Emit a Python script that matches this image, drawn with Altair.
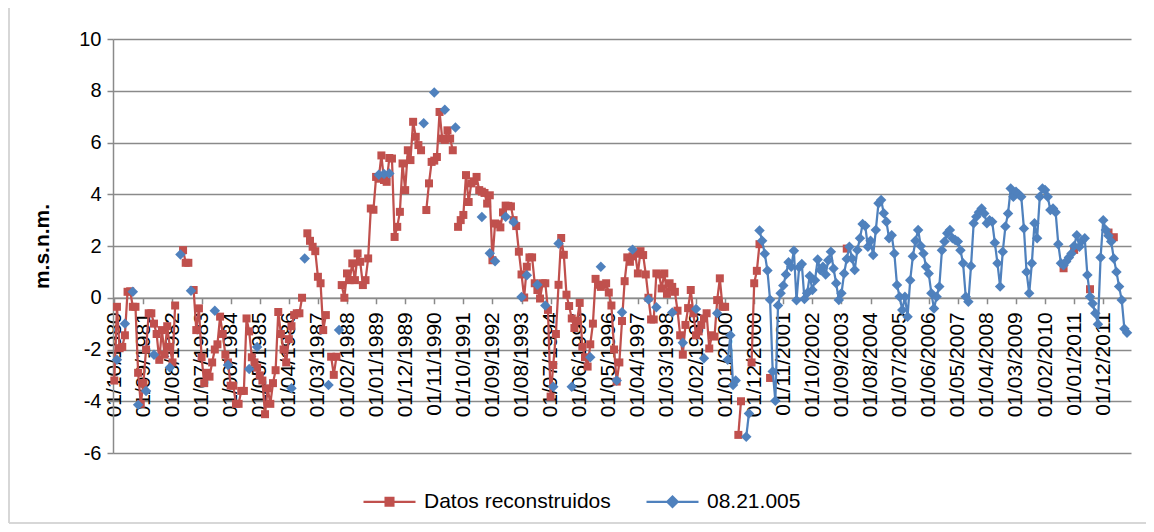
import json
import altair as alt
import pandas as pd

N = None

series_names = ["Datos reconstruidos", "08.21.005"]
series_colors = ["#C0504D", "#4F81BD"]

# category labels shown on the x axis (every 11th month, Oct 1980 .. Oct 2012)
tick_labels = [
    "01/10/1980", "01/09/1981", "01/08/1982", "01/07/1983", "01/06/1984",
    "01/05/1985", "01/04/1986", "01/03/1987", "01/02/1988", "01/01/1989",
    "01/12/1989", "01/11/1990", "01/10/1991", "01/09/1992", "01/08/1993",
    "01/07/1994", "01/06/1995", "01/05/1996", "01/04/1997", "01/03/1998",
    "01/02/1999", "01/01/2000", "01/12/2000", "01/11/2001", "01/10/2002",
    "01/09/2003", "01/08/2004", "01/07/2005", "01/06/2006", "01/05/2007",
    "01/04/2008", "01/03/2009", "01/02/2010", "01/01/2011", "01/12/2011",
]
label_step = 11
n_months = 385

# "Datos reconstruidos" monthly values (m.s.n.m.), Oct 1980 .. Oct 2012
red_values = (
    [-3.2, -0.35, -1.95]                                                        # 1980
    + [-1.9, -1.45, 0.23, 0.25, -0.35, -0.35, -2.9, -4.1, -3.3, -2.0, -0.6, -0.6]  # 1981
    + [-1.0, -1.4, -2.4, -1.25, -2.2, -1.1, -1.9, -2.5, -0.3, N, N, 1.84]        # 1982
    + [1.35, 1.35, N, 0.3, -1.25, -0.41, -2.3, -3.3, -2.9, -3.05, -2.5, -2.0]    # 1983
    + [-1.8, -0.73, -1.4, -2.2, -2.5, -3.4, -3.4, -4.1, -4.1, -3.6, -3.6, -0.8]  # 1984
    + [-1.3, -2.3, -2.5, -2.7, -3.0, -3.2, -4.5, -3.5, -4.1, -3.3, -2.8, -0.55]  # 1985
    + [-1.4, -2.0, -2.5, -1.6, -1.1, -0.67, -0.6, -0.6, 0.0, N, 2.49, 2.2]       # 1986
    + [1.97, 1.8, 0.81, 0.56, -1.25, -0.67, N, -2.28, -2.98, -2.28, N, 0.49]     # 1987
    + [0.0, 0.94, 0.68, 1.33, 0.68, 1.71, 1.39, 0.49, 0.68, 1.52, 3.45, 3.4]     # 1988
    + [4.67, 4.6, 5.5, 4.55, 4.48, 5.4, 5.38, 2.35, 2.74, 3.32, 5.19, 4.16]      # 1989
    + [5.7, 5.32, 6.8, 6.22, 5.9, 5.7, N, 3.39, 4.42, 5.25, 5.3, 5.44]           # 1990
    + [7.18, 6.15, 6.1, 6.47, 6.15, 5.7, N, 2.74, 3.0, 3.2, 4.74, 3.7]           # 1991
    + [4.42, 4.5, 4.67, 4.16, 4.1, 4.05, 3.64, 3.96, 1.45, 2.87, 2.84, 2.72]     # 1992
    + [3.3, 3.56, 3.55, 3.53, 3.0, 2.77, 1.78, 0.9, 0.01, 1.2, 1.56, 1.56]       # 1993
    + [0.56, 0.3, -0.03, 0.56, 0.56, -0.47, -3.82, -2.6, -1.4, 0.5, 2.31, 1.66]  # 1994
    + [0.12, -0.32, -0.8, -1.17, -0.9, -0.2, -1.9, -2.3, -2.66, -1.8, -1.0, 0.73]  # 1995
    + [0.5, 0.42, 0.5, 0.56, 0.2, -0.3, -2.0, -3.24, -2.5, -0.9, 0.64, 1.56]     # 1996
    + [1.39, 1.6, 1.7, 0.94, 1.8, 1.65, 0.9, 0.0, -0.84, -0.84, 0.94, 0.9]       # 1997
    + [0.36, 0.94, 0.15, 0.56, 0.42, 0.23, -0.5, -1.45, -2.2, -1.05, -0.4, 0.3]  # 1998
    + [-0.6, -1.45, -1.3, -1.05, -0.8, -0.6, -1.96, -1.45, -1.5, -0.09, 0.75, -0.35]  # 1999
    + [-0.35, N, N, N, N, -5.3, -4.0, N, N, N, -2.5, 0.56]                       # 2000
    + [1.04, 2.07, N, N, N, -3.1, N, N, N, N, N, N]                              # 2001
    + [N] * 12                                                                   # 2002
    + [N, N, N, N, N, N, N, N, N, N, 1.9, N]                                     # 2003
    + [N] * 12 * 6                                                               # 2004-2009
    + [N, N, N, N, N, N, N, N, 1.14, N, N, N]                                    # 2010
    + [1.85, N, N, N, N, N, 0.33, N, N, N, N, N]                                 # 2011
    + [N, 2.52, N, 2.34, N, N, N, N, N, N]                                       # 2012
)

# "08.21.005" observed monthly values (m.s.n.m.), Oct 1980 .. Oct 2012
blue_values = (
    [N, -2.4, N]                                                                 # 1980
    + [N, -1.0, N, N, 0.23, N, -4.14, N, N, -3.6, N, N]                          # 1981
    + [-2.2, N, N, N, N, N, -2.7, N, N, N, 1.67, N]                              # 1982
    + [N, N, 0.27, N, N, N, N, N, N, N, N, -0.5]                                 # 1983
    + [N, N, N, N, -2.6, N, N, N, N, N, N, N]                                    # 1984
    + [-2.75, N, N, -1.9, N, N, N, N, N, N, N, N]                                # 1985
    + [N, N, N, N, -3.5, N, N, N, N, 1.52, N, N]                                 # 1986
    + [N, N, N, N, N, N, -3.37, N, N, N, -1.25, N]                               # 1987
    + [N] * 12                                                                   # 1988
    + [N, 4.75, N, 4.78, N, 4.8, N, N, N, N, N, N]                               # 1989
    + [N, N, N, N, N, N, 6.74, N, N, N, 7.93, N]                                 # 1990
    + [N, N, 7.27, N, N, N, 6.58, N, N, N, N, N]                                 # 1991
    + [N, N, N, N, 3.12, N, N, 1.72, N, 1.41, N, N]                              # 1992
    + [N, 3.13, N, N, 2.93, N, N, 0.03, N, 0.87, N, N]                           # 1993
    + [N, 0.5, N, N, -0.3, N, N, -3.44, N, 2.1, N, N]                            # 1994
    + [N, N, -3.44, N, N, N, N, N, N, -2.3, N, N]                                # 1995
    + [N, 1.2, N, N, N, N, N, -3.2, N, -0.56, N, N]                              # 1996
    + [N, 1.86, N, N, N, N, N, -0.07, N, N, -0.37, N]                            # 1997
    + [N, N, N, N, -0.57, N, N, N, -1.74, N, N, N]                               # 1998
    + [N, -0.43, N, N, -2.34, N, N, N, N, -0.6, N, N]                            # 1999
    + [N, -2.4, -1.45, -3.37, -3.2, N, N, N, -5.37, -4.47, N, N]                 # 2000
    + [N, 2.6, 2.2, 1.7, 1.05, -0.08, -2.85, -3.98, -0.3, 0.17, 0.47, 0.9]       # 2001
    + [1.37, 1.2, 1.82, -0.1, 1.18, 1.3, -0.05, 0.17, 0.84, 0.3, 0.68, 1.48]     # 2002
    + [1.07, 1.2, 0.9, 1.45, 1.78, 1.13, 0.56, -0.09, 0.17, 0.94, 1.5, 1.97]     # 2003
    + [1.52, 1.07, 1.85, 2.3, 2.85, 2.77, 1.97, 2.2, 1.65, 2.62, 3.65, 3.78]     # 2004
    + [3.27, 2.94, 2.3, 2.42, 1.71, 0.49, 0.04, -0.47, 0.04, -0.73, 0.68, 1.6]   # 2005
    + [2.2, 2.62, 2.0, 1.71, 1.2, 0.94, 0.17, -0.42, 0.04, 0.43, 1.84, 2.17]     # 2006
    + [2.49, 2.62, 2.3, 2.23, 2.17, 1.84, 1.33, 0.04, -0.15, 1.23, 2.88, 3.13]   # 2007
    + [3.3, 3.45, 3.26, 2.88, 3.0, 2.94, 2.13, 1.33, 0.43, 1.78, 2.75, 3.26]     # 2008
    + [4.22, 3.9, 4.1, 4.0, 3.9, 2.68, 1.0, 0.17, 1.33, 2.88, 2.3, 3.9]          # 2009
    + [4.22, 4.16, 3.9, 3.39, 3.45, 3.3, 2.07, 1.33, 1.26, 1.4, 1.56, 1.71]      # 2010
    + [2.0, 2.42, 1.97, 2.2, 2.3, 0.88, 0.04, -0.22, -0.6, -1.02, 1.56, 3.0]     # 2011
    + [2.62, 2.4, 2.17, 1.52, 1.0, 0.43, -0.09, -1.2, -1.35, N]                  # 2012
)

assert len(red_values) == n_months, len(red_values)
assert len(blue_values) == n_months, len(blue_values)


def to_rows(values, name):
    rows, seg = [], 0
    for i, v in enumerate(values):
        if v is None:
            seg += 1
        else:
            rows.append({"idx": i, "value": v, "seg": seg, "series": name})
    return rows


red_df = pd.DataFrame(to_rows(red_values, series_names[0]))
blue_df = pd.DataFrame(to_rows(blue_values, series_names[1]))
legend_df = pd.DataFrame({"series": series_names})

FONT = "Liberation Sans"
GRID = "#8A8A8A"
FRAME = "#D4D4D4"
W, H = 1018, 414
PAD_L, PAD_T, PAD_R, PAD_B = 105, 31, 15, 71
y_min, y_max = -6, 10

label_expr = json.dumps(tick_labels) + "[round(datum.value / %d)]" % label_step

x_enc = alt.X(
    "idx:Q",
    scale=alt.Scale(domain=[-0.5, n_months - 0.5], nice=False, zero=False),
    axis=alt.Axis(
        values=[label_step * k for k in range(len(tick_labels))],
        labelExpr=label_expr,
        labelAngle=270,
        labelAlign="right",
        labelBaseline="middle",
        labelFont=FONT,
        labelFontSize=21,
        labelColor="black",
        labelPadding=8,
        labelOverlap=False,
        labelFlush=False,
        tickSize=6,
        tickColor=GRID,
        tickWidth=1.5,
        domainColor=GRID,
        domainWidth=1.5,
        grid=False,
        offset=-H * (0 - y_min) / (y_max - y_min),
        title=None,
    ),
)

y_enc = alt.Y(
    "value:Q",
    scale=alt.Scale(domain=[y_min, y_max], nice=False, zero=False),
    axis=alt.Axis(
        values=list(range(y_min, y_max + 1, 2)),
        labelExpr="(datum.value < 0 ? '-' : '') + abs(datum.value)",
        grid=True,
        gridColor=GRID,
        gridWidth=1.5,
        domainColor=GRID,
        domainWidth=1.5,
        tickColor=GRID,
        tickWidth=1.5,
        tickSize=6,
        labelFont=FONT,
        labelFontSize=20,
        labelColor="black",
        labelPadding=6,
        title="m.s.n.m.",
        titleFont=FONT,
        titleFontSize=21,
        titleFontWeight="bold",
        titleColor="black",
        titleAngle=270,
        titleX=-65,
        titleY=H / 2,
        titleAlign="center",
        titleBaseline="alphabetic",
    ),
)

red_line = alt.Chart(red_df).mark_line(color=series_colors[0], strokeWidth=2.25).encode(
    x=x_enc, y=y_enc, detail="seg:N"
)
red_pts = alt.Chart(red_df).mark_point(
    shape="square", filled=True, size=64, color=series_colors[0], opacity=1
).encode(x=x_enc, y=y_enc)

blue_line = alt.Chart(blue_df).mark_line(color=series_colors[1], strokeWidth=2.25).encode(
    x=x_enc, y=y_enc, detail="seg:N"
)
blue_pts = alt.Chart(blue_df).mark_point(
    shape="diamond", filled=True, size=110, color=series_colors[1], opacity=1
).encode(x=x_enc, y=y_enc)

legend_paths = [
    "M-1,0L1,0M-0.15,-0.15L0.15,-0.15L0.15,0.15L-0.15,0.15Z",
    "M-1,0L1,0M0,-0.2L0.2,0L0,0.2L-0.2,0Z",
]
leg = alt.Legend(
    title=None,
    orient="none",
    legendX=249,
    legendY=435,
    direction="horizontal",
    labelFont=FONT,
    labelFontSize=21,
    labelColor="black",
    labelLimit=0,
    labelOffset=7,
    symbolSize=2704,
    symbolStrokeWidth=2.25,
    columnPadding=31,
    padding=0,
)
legend_layer = alt.Chart(legend_df).mark_point(opacity=1, clip=True, strokeWidth=2.25).encode(
    x=alt.value(-3000),
    y=alt.value(-3000),
    fill=alt.Fill("series:N", scale=alt.Scale(domain=series_names, range=series_colors), legend=leg),
    stroke=alt.Stroke("series:N", scale=alt.Scale(domain=series_names, range=series_colors), legend=leg),
    shape=alt.Shape("series:N", scale=alt.Scale(domain=series_names, range=legend_paths), legend=leg),
)

# light chart-area frame (left, right and bottom edges)
frame_l = alt.Chart(legend_df).mark_rule(color=FRAME, strokeWidth=1.5).encode(
    x=alt.value(-PAD_L + 1), y=alt.value(-PAD_T), y2=alt.value(H + PAD_B - 1)
)
frame_r = alt.Chart(legend_df).mark_rule(color=FRAME, strokeWidth=1.5).encode(
    x=alt.value(W + PAD_R + 2), y=alt.value(-PAD_T), y2=alt.value(H + PAD_B - 1)
)
frame_b = alt.Chart(legend_df).mark_rule(color=FRAME, strokeWidth=1.5).encode(
    x=alt.value(-PAD_L + 1), x2=alt.value(W + PAD_R + 2), y=alt.value(H + PAD_B - 1)
)

chart = (
    alt.layer(frame_l, frame_r, frame_b, red_line, red_pts, blue_line, blue_pts, legend_layer)
    .properties(
        width=W,
        height=H,
        autosize=alt.AutoSizeParams(type="none"),
        padding={"left": PAD_L, "top": PAD_T, "right": PAD_R, "bottom": PAD_B},
        background="white",
    )
    .configure_view(stroke="transparent")
)

chart.save("out.html", embed_options={"renderer": "svg", "actions": False})
